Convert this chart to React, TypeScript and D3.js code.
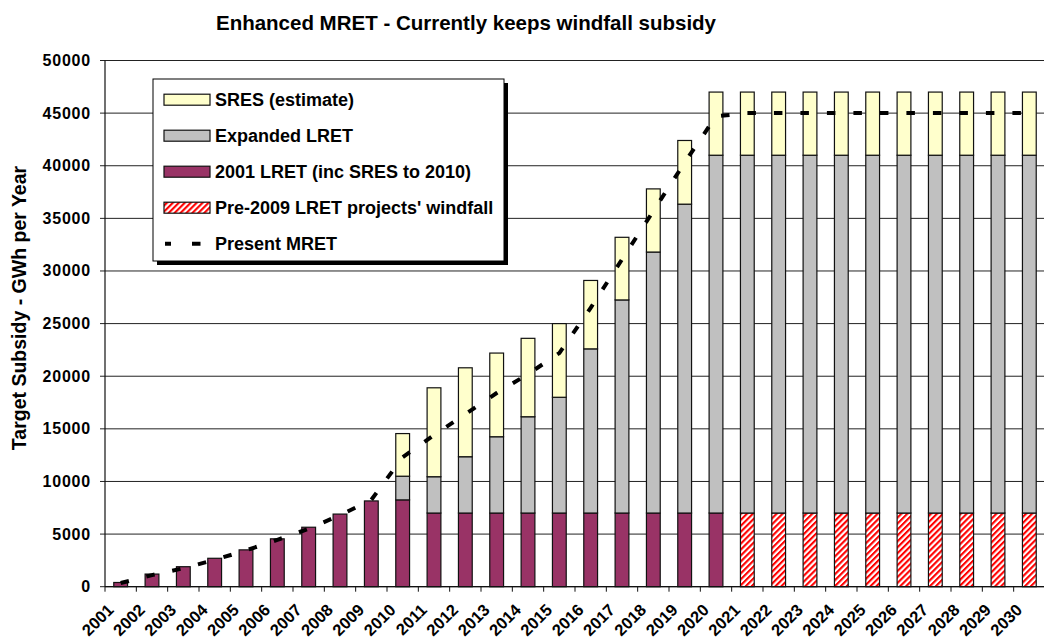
import React from "react";
import * as d3 from "d3";

const years = ["2001","2002","2003","2004","2005","2006","2007","2008","2009","2010","2011","2012","2013","2014","2015","2016","2017","2018","2019","2020","2021","2022","2023","2024","2025","2026","2027","2028","2029","2030"];
const lret2001 = [400,1200,1900,2700,3500,4550,5650,6900,8150,8250,7000,7000,7000,7000,7000,7000,7000,7000,7000,7000,0,0,0,0,0,0,0,0,0,0];
const windfall = [0,0,0,0,0,0,0,0,0,0,0,0,0,0,0,0,0,0,0,0,7000,7000,7000,7000,7000,7000,7000,7000,7000,7000];
const expanded = [0,0,0,0,0,0,0,0,0,2250,3450,5350,7250,9150,11000,15600,20250,24800,29350,34000,34000,34000,34000,34000,34000,34000,34000,34000,34000,34000];
const sres = [0,0,0,0,0,0,0,0,0,4050,8450,8450,7950,7450,7000,6500,5950,6000,6050,6000,6000,6000,6000,6000,6000,6000,6000,6000,6000,6000];
const mret = [350,1100,1750,2550,3450,4450,5500,6800,8250,12300,14400,16400,18400,20200,22200,26500,31100,35700,40300,44700,45000,45000,45000,45000,45000,45000,45000,45000,45000,45000];
const yTicks = [0,5000,10000,15000,20000,25000,30000,35000,40000,45000,50000];
const legendItems = ["SRES (estimate)","Expanded LRET","2001 LRET (inc SRES to 2010)","Pre-2009 LRET projects' windfall","Present MRET"];

const FONT = "'Liberation Sans', Arial, sans-serif";

export default function App() {
  const W = 1044, H = 644;
  const x = d3.scaleBand<string>().domain(years).range([105, 1045]).paddingInner(0.56).paddingOuter(0.28);
  const y = d3.scaleLinear().domain([0, 50000]).range([586.7, 60.5]);
  const step = x.step();
  const rows = years.map((yr, i) => ({ yr, l: lret2001[i], w: windfall[i], e: expanded[i], s: sres[i] }));
  const series = [
    { key: "l", fill: "#993366" },
    { key: "w", fill: "url(#hatch)" },
    { key: "e", fill: "#C0C0C0" },
    { key: "s", fill: "#FFFFCC" },
  ];
  const stack = d3.stack<any>().keys(series.map(s => s.key))(rows);
  const line = d3.line<number>().x((_, i) => (x(years[i]) as number) + x.bandwidth() / 2).y(d => y(d));
  const legendFills = ["#FFFFCC", "#C0C0C0", "#993366", "url(#hatch)"];

  return (
    <svg width={W} height={H} style={{ position: "absolute", left: 0, top: 0, background: "#fff" }} fontFamily={FONT}>
      <defs>
        <pattern id="hatch" patternUnits="userSpaceOnUse" width="4.2" height="4.2" patternTransform="rotate(45)">
          <rect width="4.2" height="4.2" fill="#fff" />
          <rect width="2.1" height="4.2" fill="#FF0000" />
        </pattern>
      </defs>
      <rect width={W} height={H} fill="#fff" />
      <text x={466} y={30} textAnchor="middle" fontSize={20.5} fontWeight="bold">Enhanced MRET - Currently keeps windfall subsidy</text>
      {yTicks.map(t => (
        <g key={t}>
          <line x1={100} x2={1044} y1={y(t)} y2={y(t)} stroke="#222" strokeWidth={1} />
          <text x={91} y={y(t) + 5.5} textAnchor="end" fontSize={16} fontWeight="bold" letterSpacing={0.8}>{t}</text>
        </g>
      ))}
      {stack.map((layer, si) => (
        <g key={si}>
          {layer.map((d, i) => {
            const h = y(d[0]) - y(d[1]);
            if (h <= 0) return null;
            return <rect key={i} x={x(years[i])} y={y(d[1])} width={x.bandwidth()} height={h} fill={series[si].fill} stroke="#111" strokeWidth={1.2} />;
          })}
        </g>
      ))}
      <line x1={105} x2={105} y1={y(50000)} y2={y(0)} stroke="#111" strokeWidth={1.2} />
      <line x1={105} x2={1044} y1={y(0)} y2={y(0)} stroke="#111" strokeWidth={1.2} />
      {years.map((yr, i) => (
        <line key={yr} x1={105 + i * step} x2={105 + i * step} y1={y(0)} y2={y(0) + 5} stroke="#111" strokeWidth={1} />
      ))}
      {years.map(yr => {
        const cx = (x(yr) as number) + x.bandwidth() / 2;
        return (
          <text key={yr} transform={`translate(${cx - 6},${611}) rotate(-45)`} textAnchor="end" fontSize={16.5} fontWeight="bold">{yr}</text>
        );
      })}
      <path d={line(mret) || ""} fill="none" stroke="#000" strokeWidth={4} strokeDasharray="8.5 18" />
      <text transform={`translate(26,308) rotate(-90)`} textAnchor="middle" fontSize={19.5} fontWeight="bold">Target Subsidy - GWh per Year</text>
      <g>
        <rect x={157} y={83} width={351} height={182} fill="#000" />
        <rect x={153} y={79} width={351} height={182} fill="#fff" stroke="#000" strokeWidth={1} />
        {legendItems.map((lab, i) => {
          const cy = 99.7 + i * 36;
          return (
            <g key={lab}>
              {i < 4 ? (
                <rect x={164} y={cy - 5.5} width={46} height={11} fill={legendFills[i]} stroke="#111" strokeWidth={1.2} />
              ) : (
                <line x1={165} x2={210} y1={cy} y2={cy} stroke="#000" strokeWidth={4} strokeDasharray="6 21 8.5 30" />
              )}
              <text x={215} y={cy + 6.3} fontSize={18} fontWeight="bold">{lab}</text>
            </g>
          );
        })}
      </g>
    </svg>
  );
}
